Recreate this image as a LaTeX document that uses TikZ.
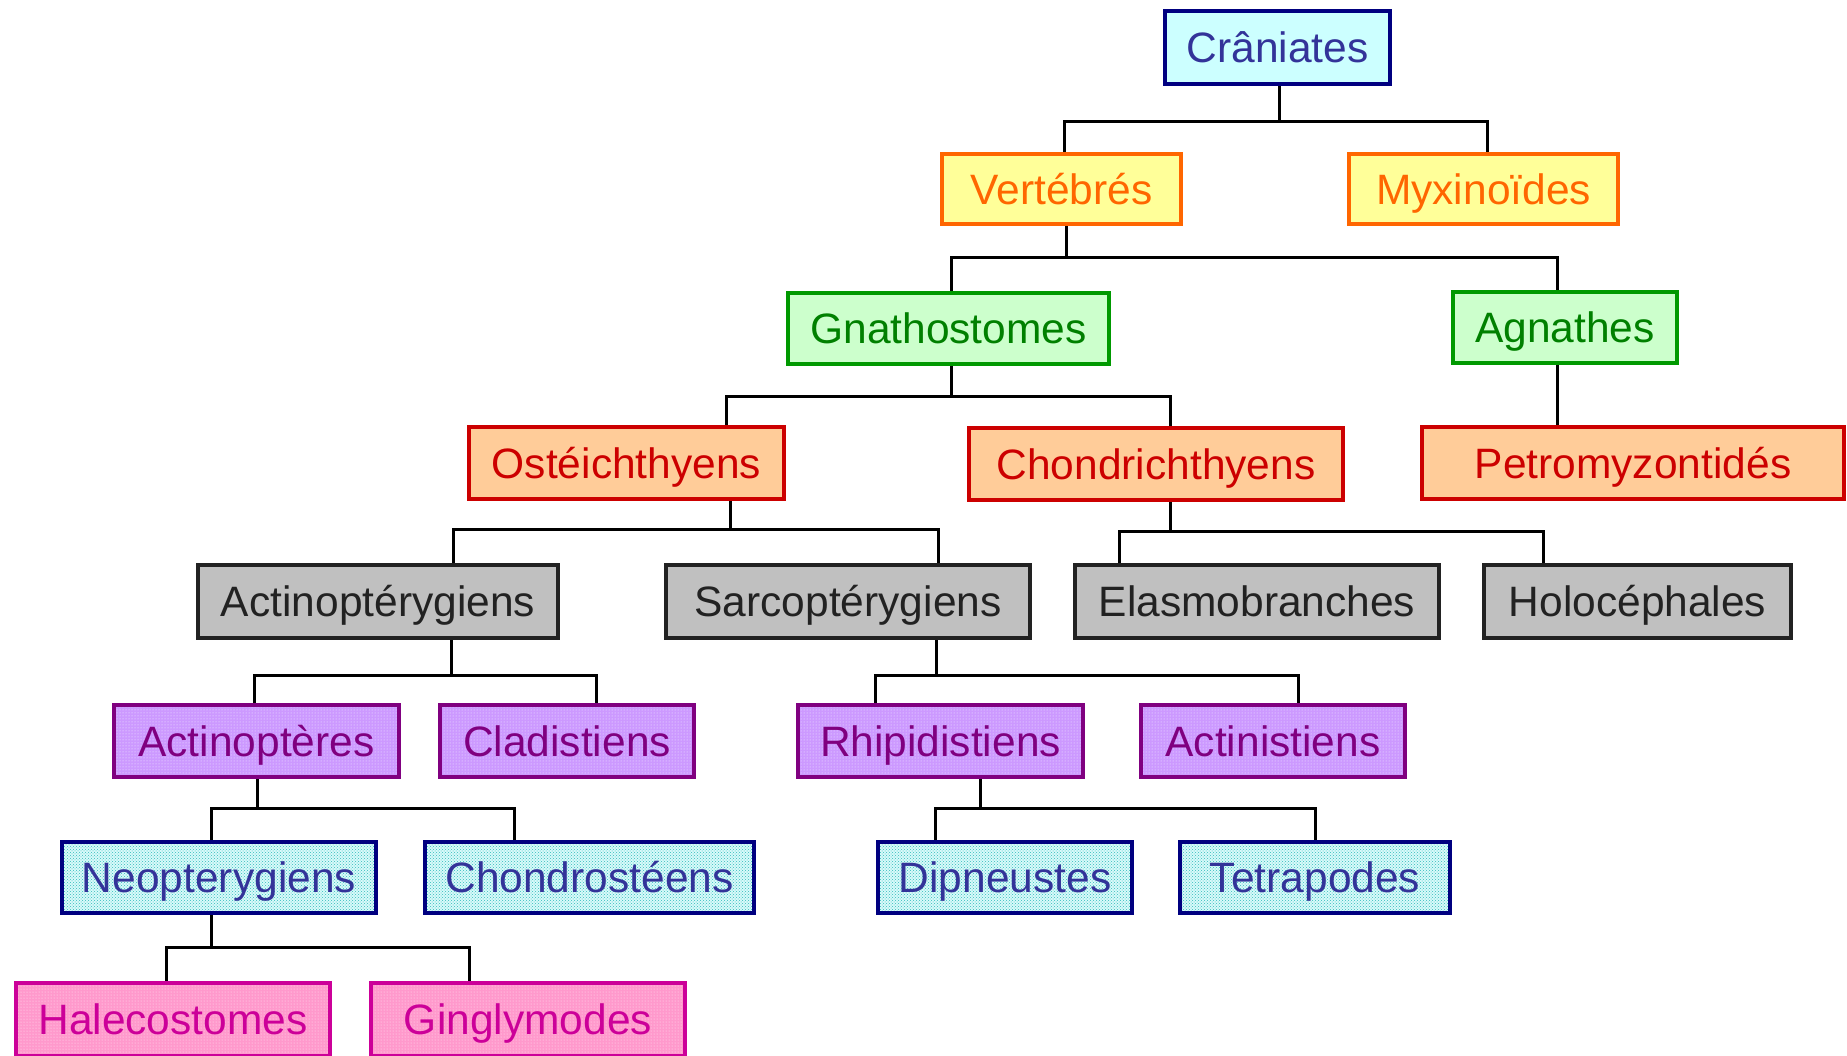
\documentclass[tikz,border=0pt]{standalone}
\usepackage{fontspec}
\setmainfont{Liberation Sans}
\usetikzlibrary{patterns}
\definecolor{navyb}{HTML}{000080}
\definecolor{navyt}{HTML}{333399}
\definecolor{cyanf}{HTML}{CCFFFF}
\definecolor{cyanl}{HTML}{D8FAFA}
\definecolor{tealdot}{HTML}{33BBBB}
\definecolor{orgb}{HTML}{FF6600}
\definecolor{yelf}{HTML}{FFFF99}
\definecolor{grnb}{HTML}{009900}
\definecolor{grnt}{HTML}{008000}
\definecolor{grnf}{HTML}{CCFFCC}
\definecolor{redb}{HTML}{CC0000}
\definecolor{pchf}{HTML}{FFCC99}
\definecolor{gryf}{HTML}{C0C0C0}
\definecolor{gryb}{HTML}{222222}
\definecolor{purb}{HTML}{800080}
\definecolor{purf}{HTML}{CC99FF}
\definecolor{pnkb}{HTML}{CC0099}
\definecolor{pnkf}{HTML}{FF99CC}
\tikzset{
  box/.style={rectangle, line width=4.5pt, inner sep=0pt, minimum height=72pt,
    text height=30pt, text depth=0pt, font=\fontsize{42.5}{48}\selectfont},
  lvcyan/.style={box, draw=navyb, fill=cyanf, text=navyt},
  lvyel/.style={box, draw=orgb, fill=yelf, text=orgb},
  lvgrn/.style={box, draw=grnb, fill=grnf, text=grnt},
  lvred/.style={box, draw=redb, fill=pchf, text=redb},
  lvgry/.style={box, draw=gryb, fill=gryf, text=gryb},
  lvpur/.style={box, draw=purb, preaction={fill=purf}, preaction={pattern=dots, pattern color=white!85!purf}, text=purb},
  lvblu/.style={box, draw=navyb, preaction={fill=cyanl}, preaction={pattern=crosshatch dots, pattern color=tealdot}, text=navyt},
  lvpnk/.style={box, draw=pnkb, preaction={fill=pnkf}, preaction={pattern=dots, pattern color=white!80!pnkf}, text=pnkb},
  conn/.style={line width=3pt, black}
}
\newcommand\branchto[7]{%
  \path ([xshift=#2pt]#1.south) coordinate (P);
  \coordinate (J) at (P |- 0,#3);
  \draw[conn] (P) -- (J);
  \draw[conn] ([xshift=#5pt]#4.north) |- (J) -| ([xshift=#7pt]#6.north);
}
\begin{document}
\begin{tikzpicture}[x=1pt,y=-1pt]
\clip (0,0) rectangle (1847,1055);
\fill[white] (0,0) rectangle (1847,1055);
% level 0
\node[lvcyan, minimum width=225pt, minimum height=73pt] (cran) at (1277.5,47.5) {Crâniates};
% level 1
\node[lvyel, minimum width=239pt, minimum height=70pt] (vert) at (1061.5,189) {Vertébrés};
\node[lvyel, minimum width=269pt, minimum height=70pt] (myx) at (1483.5,189) {Myxinoïdes};
% level 2
\node[lvgrn, minimum width=321pt, minimum height=71pt] (gnat) at (948.5,328.5) {Gnathostomes};
\node[lvgrn, minimum width=224pt, minimum height=71pt] (agn) at (1565,327.5) {Agnathes};
% level 3
\node[lvred, minimum width=315pt] (ost) at (626.5,463) {Ostéichthyens};
\node[lvred, minimum width=374pt] (chon) at (1156,464) {Chondrichthyens};
\node[lvred, minimum width=422pt] (pet) at (1633,463) {Petromyzontidés};
% level 4
\node[lvgry, minimum width=360pt, minimum height=73pt] (actg) at (378,601.5) {Actinoptérygiens};
\node[lvgry, minimum width=364pt, minimum height=73pt] (sarc) at (848,601.5) {Sarcoptérygiens};
\node[lvgry, minimum width=364pt, minimum height=73pt] (elas) at (1257,601.5) {Elasmobranches};
\node[lvgry, minimum width=307pt, minimum height=73pt] (holo) at (1637.5,601.5) {Holocéphales};
% level 5
\node[lvpur, minimum width=285pt] (actp) at (256.5,741) {Actinoptères};
\node[lvpur, minimum width=254pt] (clad) at (567,741) {Cladistiens};
\node[lvpur, minimum width=285pt] (rhip) at (940.5,741) {Rhipidistiens};
\node[lvpur, minimum width=264pt] (acti) at (1273,741) {Actinistiens};
% level 6
\node[lvblu, minimum width=314pt, minimum height=71pt] (neop) at (219,877.5) {Neopterygiens};
\node[lvblu, minimum width=329pt, minimum height=71pt] (chost) at (589.5,877.5) {Chondrostéens};
\node[lvblu, minimum width=254pt, minimum height=71pt] (dipn) at (1005,877.5) {Dipneustes};
\node[lvblu, minimum width=270pt, minimum height=71pt] (tetr) at (1315,877.5) {Tetrapodes};
% level 7
\node[lvpnk, minimum width=314pt, minimum height=73pt] (hale) at (173,1019.5) {Halecostomes};
\node[lvpnk, minimum width=314pt, minimum height=73pt] (ging) at (528,1019.5) {Ginglymodes};
% connectors
\branchto{cran}{1.5}{121}{vert}{2.5}{myx}{3.5}
\branchto{vert}{4.5}{257}{gnat}{2.5}{agn}{-8}
\draw[conn] ([xshift=-8pt]agn.south) -- ([xshift=-76pt]pet.north);
\branchto{gnat}{2.5}{396}{ost}{99.5}{chon}{14}
\branchto{ost}{103.5}{529}{actg}{75}{sarc}{90}
\branchto{chon}{14}{531}{elas}{-138}{holo}{-94.5}
\branchto{actg}{73}{675}{actp}{-2.5}{clad}{29}
\branchto{sarc}{88}{675}{rhip}{-65.5}{acti}{25}
\branchto{actp}{0.5}{808}{neop}{-8}{chost}{-75.5}
\branchto{rhip}{39.5}{808}{dipn}{-70}{tetr}{0}
\branchto{neop}{-8}{947}{hale}{-7}{ging}{-59}
\end{tikzpicture}
\end{document}
